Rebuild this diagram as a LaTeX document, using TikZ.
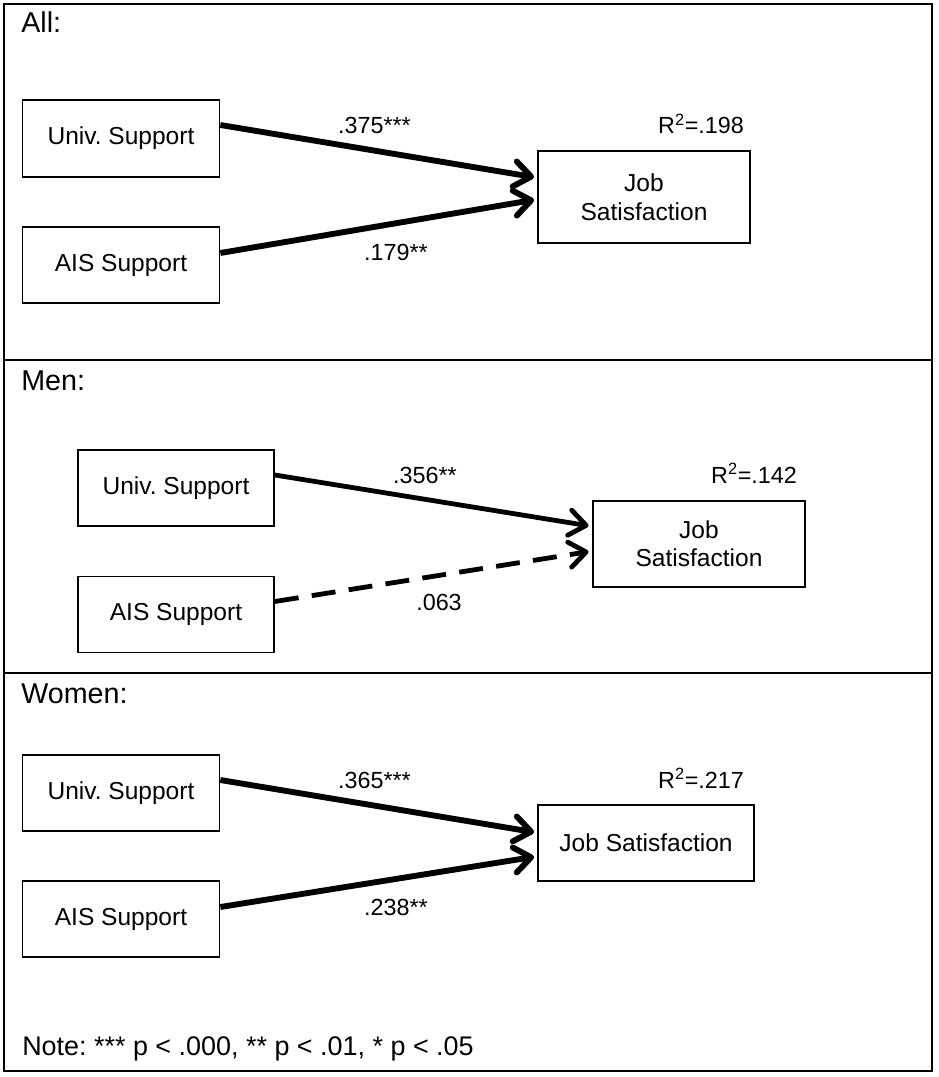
\documentclass[tikz,border=0pt]{standalone}
\usepackage{fontspec}
\setmainfont{Liberation Sans}
\usetikzlibrary{arrows.meta,calc}
\frenchspacing
\pgfdeclarearrow{
  name = Chev,
  parameters = {\the\pgfarrowlength,\the\pgfarrowwidth},
  setup code = {
    \pgfarrowssettipend{1.5pt}
    \pgfarrowssetlineend{-1.5pt}
    \pgfarrowssavethe\pgfarrowlength
    \pgfarrowssavethe\pgfarrowwidth
  },
  drawing code = {
    \pgfsetdash{}{0pt}
    \pgfsetroundcap
    \pgfsetroundjoin
    \pgfpathmoveto{\pgfpoint{-\pgfarrowlength}{.5\pgfarrowwidth}}
    \pgfpathlineto{\pgfpointorigin}
    \pgfpathlineto{\pgfpoint{-\pgfarrowlength}{-.5\pgfarrowwidth}}
    \pgfusepathqstroke
  },
  defaults = {length = 12pt, width = 17pt}
}
\begin{document}
\frenchspacing
\begin{tikzpicture}[x=0.75pt,y=-0.75pt,
  box/.style={draw,line width=1.3pt,rectangle,inner sep=0pt,align=center,font=\fontsize{18.4}{21.5}\selectfont\frenchspacing},
  lbl/.style={anchor=base,inner sep=0pt,font=\fontsize{17.5}{21}\selectfont},
  head/.style={anchor=base west,inner sep=0pt,font=\fontsize{21.5}{25}\selectfont},
  path/.style={line width=4.4pt,-{Chev[length=12.5pt,width=19pt]}},
  thinpath/.style={line width=3.6pt,-{Chev[length=12.5pt,width=19pt,line width=4pt]}}]
\useasboundingbox (0,0) rectangle (938,1077);
\draw[line width=1.2pt] (4,4) rectangle (932,1071);
\draw[line width=1.2pt] (4,360) coordinate (d1l) -- (932,360) coordinate (d1r);
\draw[line width=1.2pt] (4,673) coordinate (d2l) -- (932,673) coordinate (d2r);

% All
\node[head] (hall) at (21,33) {All:};
\node[box,minimum width=197*0.75pt,minimum height=77*0.75pt] (u1) at (121,138.5) {Univ. Support};
\node[box,minimum width=197*0.75pt,minimum height=76*0.75pt] (a1) at (121,265) {AIS Support};
\node[box,minimum width=212*0.75pt,minimum height=92*0.75pt] (j1) at (644,197) {Job\\Satisfaction};
\node[lbl] (r1) at (701,134) {R\textsuperscript{2}=.198};
\node[lbl] (l11) at (374.5,134) {.375***};
\node[lbl] (l12) at (396,260) {.179**};
\draw[path] ($(u1.east)+(0,-13.5)$) -- ($(j1.west)+(-4,-20)$);
\draw[path] ($(a1.east)+(0,-12)$) -- ($(j1.west)+(-4,3)$);

% Men
\node[head] (hmen) at (21,390) {Men:};
\node[box,minimum width=196*0.75pt,minimum height=76*0.75pt] (u2) at (176,488) {Univ. Support};
\node[box,minimum width=196*0.75pt,minimum height=76*0.75pt] (a2) at (176,614.5) {AIS Support};
\node[box,minimum width=212*0.75pt,minimum height=86*0.75pt] (j2) at (699,543.7) {Job\\Satisfaction};
\node[lbl] (r2) at (754,483) {R\textsuperscript{2}=.142};
\node[lbl] (l21) at (425,483) {.356**};
\node[lbl] (l22) at (439,610.7) {.063};
\draw[thinpath] ($(u2.east)+(0,-13)$) -- ($(j2.west)+(-4,-18)$);
\draw[thinpath,dash pattern=on 18pt off 10pt] ($(a2.east)+(0,-13)$) -- ($(j2.west)+(-4,8)$);

% Women
\node[head] (hwomen) at (21,703) {Women:};
\node[box,minimum width=197*0.75pt,minimum height=76*0.75pt] (u3) at (121,793) {Univ. Support};
\node[box,minimum width=197*0.75pt,minimum height=76*0.75pt] (a3) at (121,919) {AIS Support};
\node[box,minimum width=216*0.75pt,minimum height=76*0.75pt] (j3) at (646,843) {Job Satisfaction};
\node[lbl] (r3) at (701,788) {R\textsuperscript{2}=.217};
\node[lbl] (l31) at (374.5,788) {.365***};
\node[lbl] (l32) at (396,915) {.238**};
\draw[path] ($(u3.east)+(0,-13)$) -- ($(j3.west)+(-4,-11)$);
\draw[path] ($(a3.east)+(0,-12)$) -- ($(j3.west)+(-4,14)$);

\node[anchor=base west,inner sep=0pt,font=\fontsize{20.2}{24}\selectfont\frenchspacing] (note) at (22,1055) {Note: *** p < .000, ** p < .01, * p < .05};
\end{tikzpicture}
\end{document}
